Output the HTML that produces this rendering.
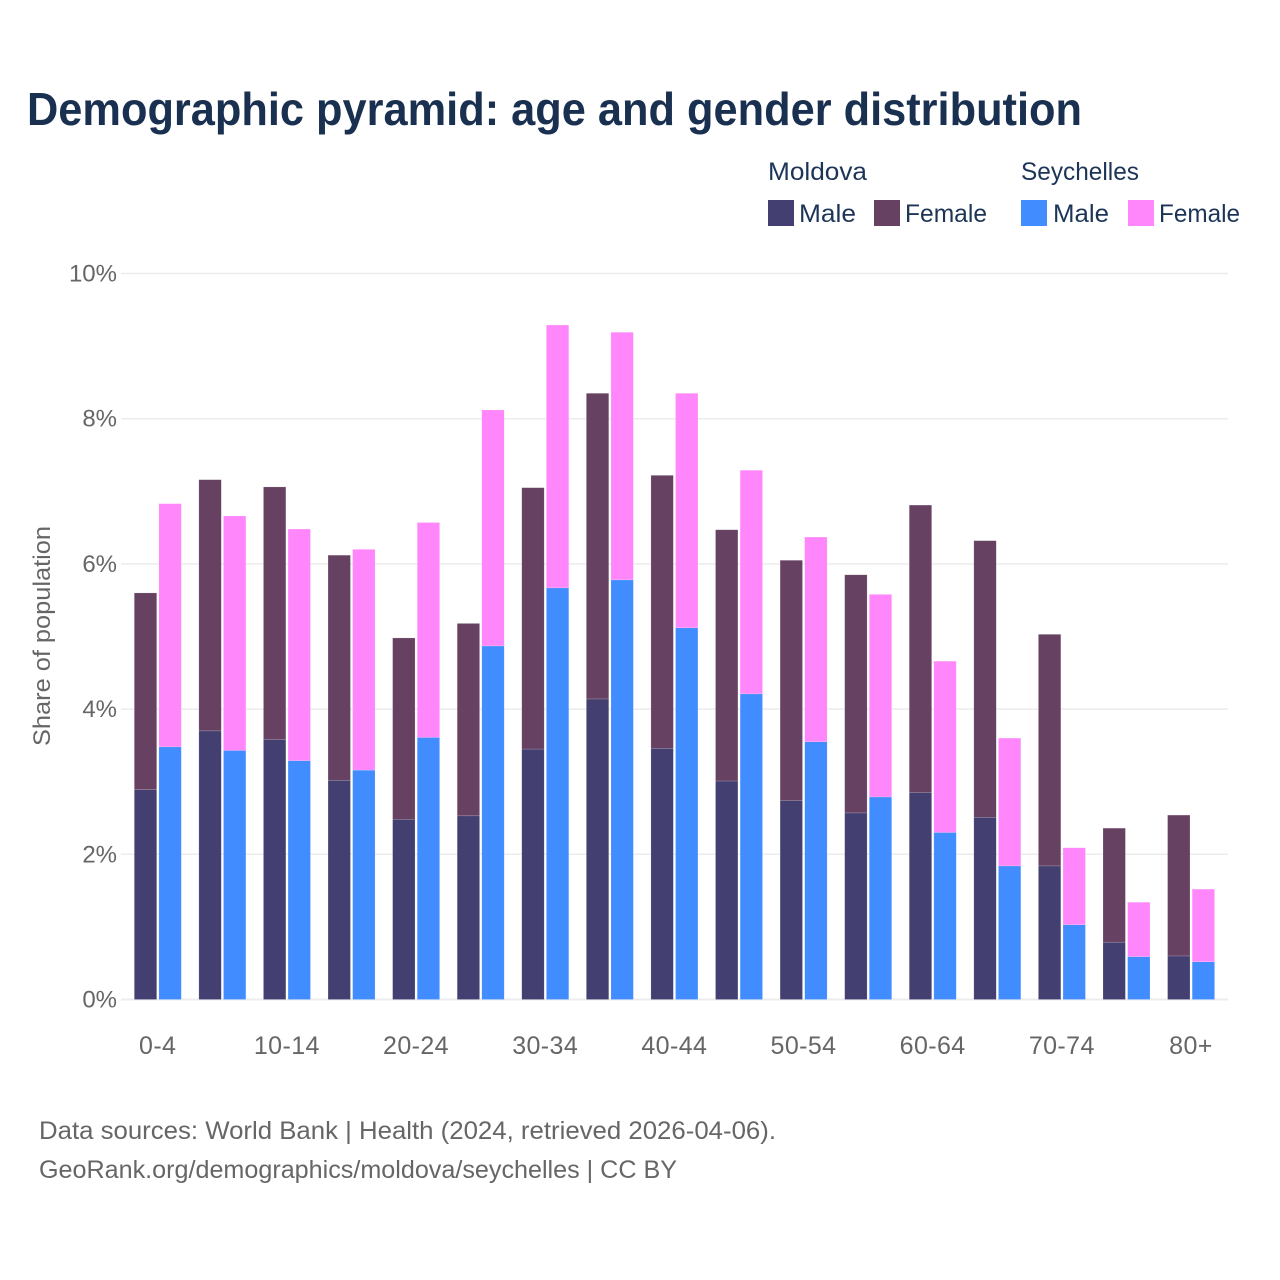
<!DOCTYPE html>
<html lang="en">
<head>
<meta charset="utf-8">
<title>Demographic pyramid: age and gender distribution</title>
<style>
html,body{margin:0;padding:0;background:#fff;}
svg{display:block;font-family:"Liberation Sans",sans-serif;}
</style>
</head>
<body>
<svg id="chart" width="1280" height="1280" viewBox="0 0 1280 1280" xmlns="http://www.w3.org/2000/svg">
  <rect width="1280" height="1280" fill="#fff"/>
  <text x="27" y="125" font-size="46" font-weight="700" fill="#1a3050" textLength="1055" lengthAdjust="spacingAndGlyphs">Demographic pyramid: age and gender distribution</text>

  <g font-size="25" fill="#1c3557">
    <text x="768" y="180" textLength="99" lengthAdjust="spacingAndGlyphs">Moldova</text>
    <text x="1021" y="180" textLength="118" lengthAdjust="spacingAndGlyphs">Seychelles</text>
    <rect x="768" y="200" width="26" height="26" fill="#433f70"/>
    <text x="799" y="222" textLength="57" lengthAdjust="spacingAndGlyphs">Male</text>
    <rect x="874" y="200" width="26" height="26" fill="#674162"/>
    <text x="905" y="222" textLength="82" lengthAdjust="spacingAndGlyphs">Female</text>
    <rect x="1021" y="200" width="26" height="26" fill="#418cff"/>
    <text x="1053" y="222" textLength="56" lengthAdjust="spacingAndGlyphs">Male</text>
    <rect x="1128" y="200" width="26" height="26" fill="#ff86fb"/>
    <text x="1159" y="222" textLength="81" lengthAdjust="spacingAndGlyphs">Female</text>
  </g>

  <g id="grid"></g>
  <g id="yticks"></g>
  <g id="bars"></g>
  <g id="xticks"></g>

  <text transform="translate(50,636) rotate(-90)" text-anchor="middle" font-size="24" fill="#666" textLength="220" lengthAdjust="spacingAndGlyphs">Share of population</text>

  <text x="39" y="1139" font-size="25" fill="#666" textLength="737" lengthAdjust="spacingAndGlyphs">Data sources: World Bank | Health (2024, retrieved 2026-04-06).</text>
  <text x="39" y="1178" font-size="25" fill="#666" textLength="638" lengthAdjust="spacingAndGlyphs">GeoRank.org/demographics/moldova/seychelles | CC BY</text>
</svg>
<script>
const categories = ["0-4","5-9","10-14","15-19","20-24","25-29","30-34","35-39","40-44","45-49","50-54","55-59","60-64","65-69","70-74","75-79","80+"];
const moldovaMale = [2.89,3.70,3.58,3.02,2.48,2.53,3.45,4.14,3.46,3.01,2.74,2.57,2.85,2.51,1.84,0.79,0.60];
const moldovaFemale = [2.71,3.46,3.48,3.10,2.50,2.65,3.60,4.21,3.76,3.46,3.31,3.28,3.96,3.81,3.19,1.57,1.94];
const seychellesMale = [3.48,3.43,3.29,3.16,3.61,4.87,5.67,5.78,5.12,4.21,3.55,2.79,2.30,1.84,1.03,0.59,0.52];
const seychellesFemale = [3.35,3.23,3.19,3.04,2.96,3.25,3.62,3.41,3.23,3.08,2.82,2.79,2.36,1.76,1.06,0.75,1.00];
const yTickValues = [0,2,4,6,8,10];
const yTickLabels = ["0%","2%","4%","6%","8%","10%"];
const xLabelEvery = 2;

const NS = "http://www.w3.org/2000/svg";
const Y0 = 999.5, PX_PER_UNIT = 72.6;
const X0 = 157.7, STEP = 64.58, BAR_W = 22.4;
function yScale(v){ return Y0 - v * PX_PER_UNIT; }
function xScale(i){ return X0 + i * STEP; }
function make(tag, attrs, parent){
  const el = document.createElementNS(NS, tag);
  for (const k in attrs) el.setAttribute(k, attrs[k]);
  parent.appendChild(el);
  return el;
}
const grid = document.getElementById("grid");
const yticks = document.getElementById("yticks");
const xticks = document.getElementById("xticks");
const bars = document.getElementById("bars");

yTickValues.forEach(function(v, i){
  const line = make("line", {x1:121, x2:1228, y1:yScale(v), y2:yScale(v), stroke:"#ececec", "stroke-width":v === 0 ? 2 : 1.5}, grid);
  
  
  const t = make("text", {x:117, y:yScale(v) + 8, "text-anchor":"end", "font-size":24, fill:"#666"}, yticks);
  
  
  t.textContent = yTickLabels[i];
});

categories.forEach(function(c, i){
  if (i % xLabelEvery === 0) {
    const t = make("text", {x:xScale(i), y:1054, "text-anchor":"middle", "font-size":25, "letter-spacing":0.4, fill:"#666"}, xticks);
    
    
    t.textContent = c;
  }
});

function seg(x, v0, v1, fill){
  const top = yScale(v0 + v1), bottom = yScale(v0);
  const r = make("rect", {x:x, y:top, width:BAR_W, height:bottom - top, fill:fill, stroke:"#fff", "stroke-opacity":0.3, "stroke-width":0.5}, bars);
  return r;
}
categories.forEach(function(c, i){
  const cx = xScale(i), a = cx - 23.4, b = cx + 1.2;
  const r1 = seg(a, 0, moldovaMale[i], "#433f70");
  
  
  const r2 = seg(a, moldovaMale[i], moldovaFemale[i], "#674162");
  
  
  const r3 = seg(b, 0, seychellesMale[i], "#418cff");
  
  
  const r4 = seg(b, seychellesMale[i], seychellesFemale[i], "#ff86fb");
  
  
});
</script>
</body>
</html>
